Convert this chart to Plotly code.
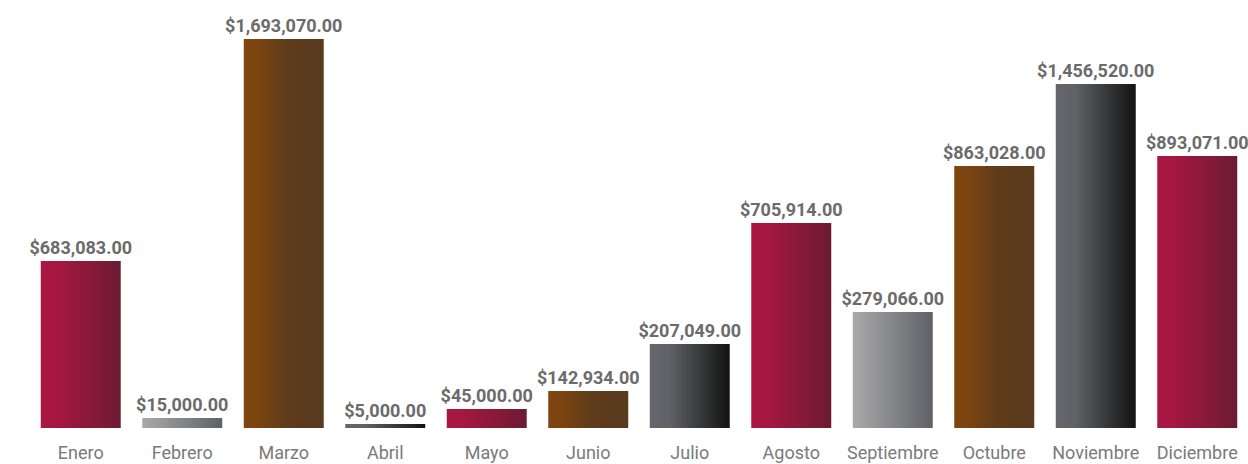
import plotly.graph_objects as go

# ---- data ----
months = ["Enero", "Febrero", "Marzo", "Abril", "Mayo", "Junio", "Julio",
          "Agosto", "Septiembre", "Octubre", "Noviembre", "Diciembre"]
# amounts shown in the labels
amounts = [683083.00, 15000.00, 1693070.00, 5000.00, 45000.00, 142934.00,
           207049.00, 705914.00, 279066.00, 863028.00, 1456520.00, 893071.00]
# bar heights as drawn in the picture (same units)
bar_heights = [727000, 43500, 1693070, 17400, 82700, 161000,
               365600, 892200, 504900, 1140300, 1497200, 1183900]

# ---- style ----
palette_of_month = ["red", "lgray", "brown", "dgray", "red", "brown",
                    "dgray", "red", "lgray", "brown", "dgray", "red"]
gradients = {
    "red":   [[0.0, "#AA1742"], [0.2, "#A51741"], [1.0, "#6C1B32"]],
    "lgray": [[0.0, "#AAAAAC"], [1.0, "#606166"]],
    "brown": [[0.0, "#80450F"], [0.18, "#7B4411"], [0.55, "#5E3B1B"], [1.0, "#583A1D"]],
    "dgray": [[0.0, "#66676C"], [0.25, "#606166"], [1.0, "#121212"]],
}
BAR_W = 0.788

fig = go.Figure()
for i, (m, h, p) in enumerate(zip(months, bar_heights, palette_of_month)):
    x0, x1 = i - BAR_W / 2, i + BAR_W / 2
    fig.add_trace(go.Scatter(
        x=[x0, x1, x1, x0, x0], y=[0, 0, h, h, 0],
        mode="lines", fill="toself",
        line=dict(width=0, color="rgba(0,0,0,0)"),
        fillgradient=dict(type="horizontal", colorscale=gradients[p]),
        hoverinfo="skip", showlegend=False, name=m,
    ))

labels = ["${:,.2f}".format(v) for v in amounts]
fig.add_trace(go.Bar(
    x=list(range(len(months))), y=bar_heights, width=BAR_W,
    marker=dict(color="rgba(0,0,0,0)", line=dict(width=0)),
    text=labels, textposition="outside", constraintext="none",
    textfont=dict(family="Roboto", size=18, color="#6B6B6B", weight="bold"),
    cliponaxis=False, hoverinfo="skip", showlegend=False,
))

fig.update_layout(
    width=1248, height=464,
    margin=dict(l=30, r=0, t=0, b=36),
    paper_bgcolor="white", plot_bgcolor="white",
    xaxis=dict(range=[-0.5, 11.5], showgrid=False, zeroline=False,
               tickmode="array", tickvals=list(range(len(months))), ticktext=months,
               showline=False, ticks="outside", ticklen=8, tickcolor="rgba(0,0,0,0)",
               tickfont=dict(family="Roboto", size=18, color="#7A7A7A")),
    yaxis=dict(range=[0, 1862800], visible=False, showgrid=False, zeroline=False),
)

fig.write_html("out.html", config={"displayModeBar": False},
               post_script="document.body.style.margin='0px';")
